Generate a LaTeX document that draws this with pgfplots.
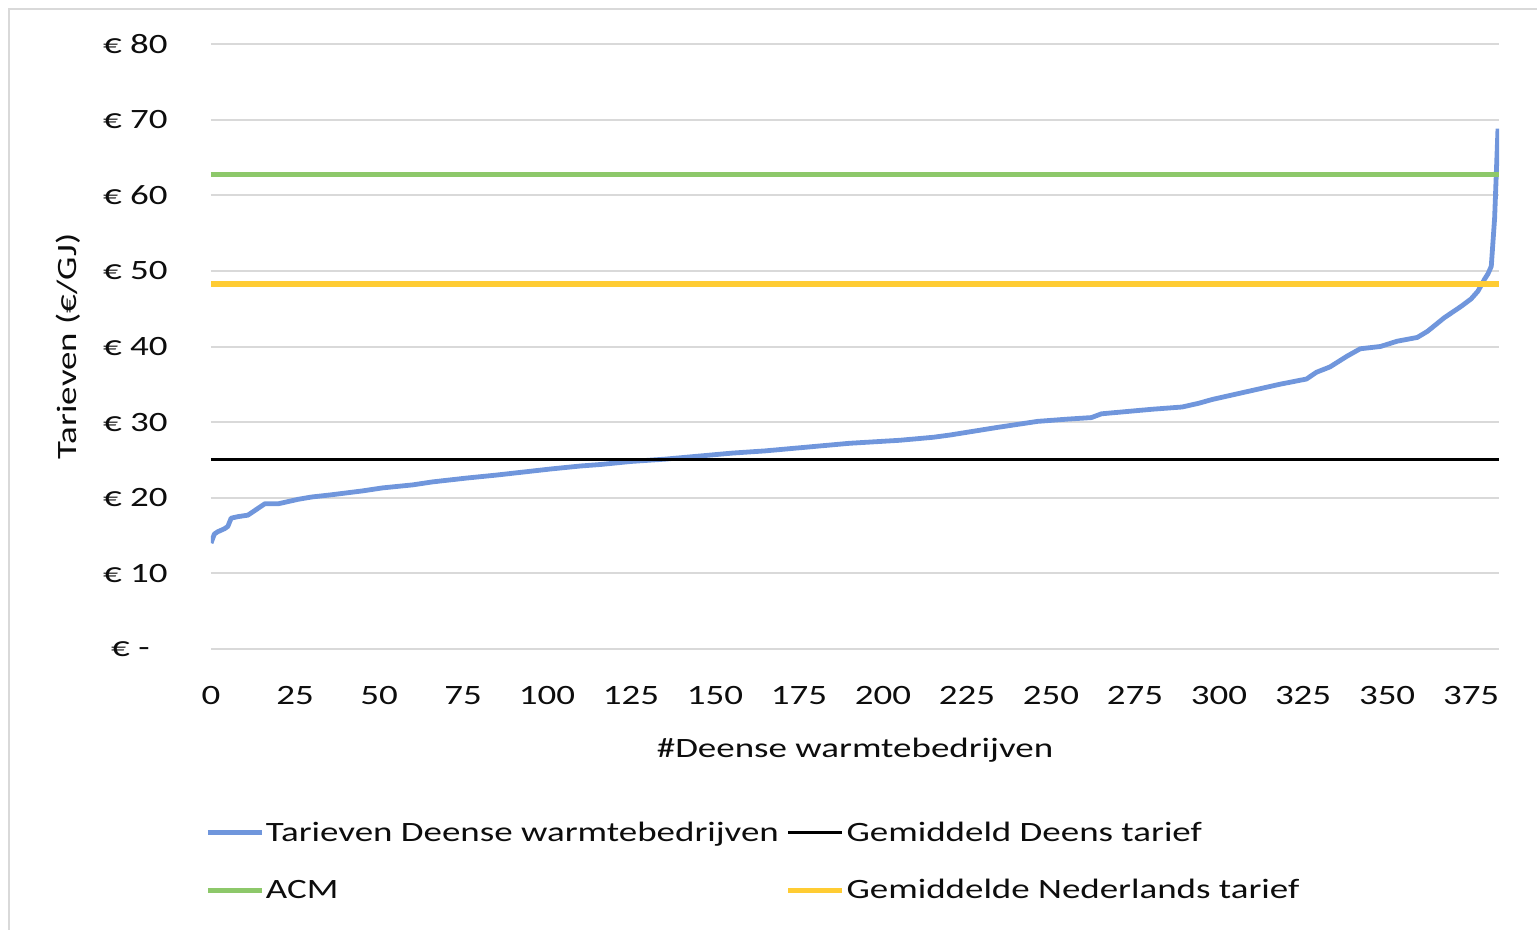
\documentclass[border=0pt]{standalone}
\usepackage{fontspec}
\setmainfont{Carlito}[FakeStretch=1.32]
\usepackage{pgfplots}
\pgfplotsset{compat=1.18}
\definecolor{cblue}{HTML}{7096DC}
\definecolor{cgreen}{HTML}{8DC86A}
\definecolor{cyellow}{HTML}{FFCC33}
\definecolor{cgrid}{HTML}{D9D9D9}
\definecolor{ctext}{HTML}{0D0D0D}
\begin{document}
\begin{tikzpicture}
\path[use as bounding box] (-105.5pt,-140.5pt) rectangle (663pt,324.5pt);
\draw[cgrid, line width=1pt] (-101pt,-140.5pt) -- (-101pt,320pt) -- (663pt,320pt);
\begin{axis}[
  at={(0,0)}, anchor=south west,
  scale only axis, width=644pt, height=302.5pt,
  xmin=0, xmax=383.3, ymin=0, ymax=80,
  axis line style={draw=none},
  ymajorgrids, grid style={cgrid, line width=1pt},
  xtick={0,25,...,375},
  ytick={0,10,...,80},
  yticklabels={{€ -\rule{9pt}{0pt}},€ 10,€ 20,€ 30,€ 40,€ 50,€ 60,€ 70,€ 80},
  major tick length=0pt,
  tick style={draw=none},
  /pgf/number format/assume math mode=true,
  font=\fontsize{14pt}{17pt}\selectfont,
  every tick label/.append style={text=ctext},
  yticklabel style={anchor=east, inner sep=0pt, xshift=-21.5pt},
  xticklabel style={anchor=north, inner sep=0pt, yshift=-18.5pt},
  xlabel={\#Deense warmtebedrijven},
  ylabel={Tarieven (€/GJ)},
  xlabel style={at={(axis description cs:0.5,-0.167)}, anchor=center, text=ctext},
  ylabel style={at={(axis description cs:-0.111,0.5)}, anchor=center, text=ctext},
  legend columns=2,
  legend cell align=left,
  legend style={draw=none, fill=none, at={(axis description cs:-0.0045,-0.282)}, anchor=north west,
    font=\fontsize{14pt}{17pt}\selectfont, text=ctext,
    /tikz/every even column/.append style={column sep=2.5pt},
    row sep=16pt, inner sep=0pt,
    nodes={inner sep=0.8pt}},
  legend image code/.code={\draw[#1] (0pt,0pt) -- (27pt,0pt);},
]
\addplot[cblue, line width=2.4pt, line join=round] coordinates {
(0,14.0) (1,15.2) (2,15.5) (4,15.9) (5,16.2) (6,17.3) (8,17.5) (11,17.7) (13,18.3)
(16,19.2) (20,19.2) (22,19.4) (26,19.8) (30,20.1) (36,20.4) (45,20.9) (51,21.3)
(60,21.7) (66,22.1) (76,22.6) (85,23.0) (91,23.3) (101,23.8) (110,24.2) (116,24.4)
(125,24.8) (135,25.1) (145,25.5) (155,25.9) (165,26.2) (175,26.6) (190,27.2)
(205,27.6) (215,28.0) (220,28.3) (234,29.3) (246,30.1) (255,30.4) (262,30.6)
(265,31.1) (280,31.7) (289,32.0) (294,32.5) (298,33.0) (308,34.0) (318,35.0)
(326,35.7) (329,36.6) (333,37.3) (338,38.7) (342,39.7) (348,40.0) (353,40.7)
(359,41.2) (362,42.0) (367,43.8) (372,45.3) (375,46.3) (377,47.3) (379,48.9)
(380,49.6) (381,50.6) (382,57.0) (383,68.8)
};
\addlegendentry{Tarieven Deense warmtebedrijven}
\addplot[black, line width=1.6pt] coordinates {(0,25.1) (383.3,25.1)};
\addlegendentry{Gemiddeld Deens tarief}
\addplot[cgreen, line width=2.4pt] coordinates {(0,62.7) (383.3,62.7)};
\addlegendentry{ACM}
\addplot[cyellow, line width=2.8pt] coordinates {(0,48.3) (383.3,48.3)};
\addlegendentry{Gemiddelde Nederlands tarief}
\end{axis}
\end{tikzpicture}
\end{document}
